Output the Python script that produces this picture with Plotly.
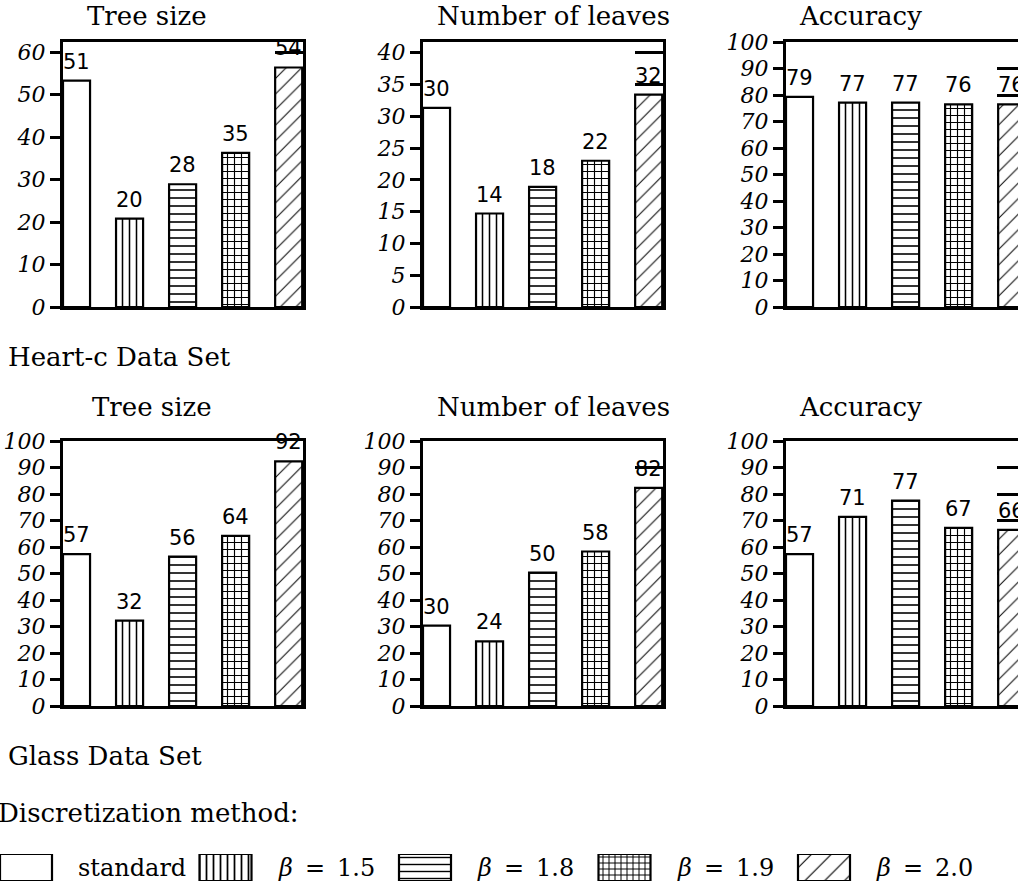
import plotly.graph_objects as go

# ---------------- data ----------------
methods = ["standard", "β = 1.5", "β = 1.8", "β = 1.9", "β = 2.0"]
legend_labels = ["standard", "<i>β</i>\u2002=\u20021.5", "<i>β</i>\u2002=\u20021.8",
                 "<i>β</i>\u2002=\u20021.9", "<i>β</i>\u2002=\u20022.0"]
metrics = ["Tree size", "Number of leaves", "Accuracy"]
datasets = ["Heart-c Data Set", "Glass Data Set"]

heart_tree_size = [53.3, 20.8, 28.9, 36.3, 56.4]
heart_tree_size_labels = ["51", "20", "28", "35", "54"]
heart_leaves = [31.3, 14.7, 18.9, 23.0, 33.4]
heart_leaves_labels = ["30", "14", "18", "22", "32"]
heart_accuracy = [79.3, 77.1, 77.1, 76.5, 76.5]
heart_accuracy_labels = ["79", "77", "77", "76", "76"]

glass_tree_size = [57.3, 32.2, 56.4, 64.2, 92.3]
glass_tree_size_labels = ["57", "32", "56", "64", "92"]
glass_leaves = [30.3, 24.4, 50.3, 58.3, 82.3]
glass_leaves_labels = ["30", "24", "50", "58", "82"]
glass_accuracy = [57.3, 71.4, 77.5, 67.2, 66.5]
glass_accuracy_labels = ["57", "71", "77", "67", "66"]

heart_ymax = [62.4, 41.67, 100]
heart_dtick = [10, 5, 10]
glass_ymax = [100, 100, 100]
glass_dtick = [10, 10, 10]

# ---------------- style / layout ----------------
W, H = 1018, 888
patterns = ["", "|", "-", "+", "/"]
pattern_sizes = [8, 7, 8, 7, 11]
pattern_solidity = [0.2, 0.22, 0.2, 0.3, 0.09]
legend_pattern_sizes = [8, 7, 7, 6, 14]
legend_pattern_solidity = [0.2, 0.25, 0.2, 0.3, 0.08]
SERIF = "DejaVu Serif"
SANS = "DejaVu Sans"

def pxx(p):
    return p / W

def pxy(p):
    return 1 - p / H

col_px = [(63, 303), (423, 663), (786, 1026)]   # third column extends past the page edge
row_px = [(42, 307), (441, 706)]
xr0, xr1 = -0.255, 4.27

panels = [
    (0, 0, heart_tree_size, heart_tree_size_labels, heart_ymax[0], heart_dtick[0]),
    (0, 1, heart_leaves, heart_leaves_labels, heart_ymax[1], heart_dtick[1]),
    (0, 2, heart_accuracy, heart_accuracy_labels, heart_ymax[2], heart_dtick[2]),
    (1, 0, glass_tree_size, glass_tree_size_labels, glass_ymax[0], glass_dtick[0]),
    (1, 1, glass_leaves, glass_leaves_labels, glass_ymax[1], glass_dtick[1]),
    (1, 2, glass_accuracy, glass_accuracy_labels, glass_ymax[2], glass_dtick[2]),
]

fig = go.Figure()
layout = {}
annotations = []

for k, (r, c, vals, labs, ymax, dt) in enumerate(panels, start=1):
    xs = "" if k == 1 else str(k)
    xname, yname = "x" + xs, "y" + xs
    ov = str(k + 6)
    left, right = col_px[c]
    right_vis = min(right, W)
    xend = xr0 + (xr1 - xr0) * (right_vis - left) / (right - left)
    top, bottom = row_px[r]
    ydom = [pxy(bottom), pxy(top)]
    tickvals = list(range(0, int(ymax) + 1, dt))

    # invisible carrier so the right-hand tick axis gets drawn
    fig.add_trace(go.Scatter(
        x=[methods[0]], y=[None], xaxis=xname, yaxis="y" + ov, mode="markers",
        showlegend=False, hoverinfo="skip",
    ))
    fig.add_trace(go.Bar(
        x=methods, y=vals, width=0.51, xaxis=xname, yaxis=yname,
        marker=dict(color="white", line=dict(color="black", width=2.2),
                    pattern=dict(shape=patterns, size=pattern_sizes, solidity=pattern_solidity,
                                 fgcolor="black", bgcolor="white", fillmode="replace")),
        showlegend=False, hoverinfo="skip",
    ))

    layout["xaxis" + xs] = dict(
        domain=[pxx(left), pxx(right_vis)], anchor=yname, range=[xr0, xend],
        type="category", showline=True, linewidth=3, linecolor="black", mirror=True,
        ticks="", showticklabels=False, showgrid=False, zeroline=False, fixedrange=True,
        automargin=False,
    )
    layout["yaxis" + xs] = dict(
        domain=ydom, anchor=xname, range=[0, ymax], tickvals=tickvals,
        showline=True, linewidth=3, linecolor="black", mirror=(c != 2),
        ticks="outside", ticklen=10, tickwidth=3, tickcolor="black",
        tickfont=dict(family=SERIF, size=22, style="italic", color="black"),
        showgrid=False, zeroline=False, fixedrange=True, automargin=False,
    )
    # right-hand ticks pointing inwards, hidden behind the bars
    layout["yaxis" + ov] = dict(
        overlaying=yname, side="right", anchor=xname, range=[0, ymax], tickvals=tickvals,
        ticks="inside", ticklen=(21 if c == 2 else 28), tickwidth=3, tickcolor="black",
        showticklabels=False, showline=False, showgrid=False, zeroline=False,
        layer="below traces", fixedrange=True, automargin=False,
    )

    for m, v, t in zip(methods, vals, labs):
        annotations.append(dict(
            x=m, y=v, xref=xname, yref=yname, text=t, showarrow=False,
            yanchor="bottom", xanchor="center", yshift=5,
            font=dict(family=SANS, size=21, color="black"),
        ))

# panel titles
title_pos = [[(147, 16), (553, 16), (860, 16)], [(152, 407), (553, 407), (860, 407)]]
for r in range(2):
    for c in range(3):
        tx, ty = title_pos[r][c]
        annotations.append(dict(
            x=pxx(tx), y=pxy(ty), xref="paper", yref="paper", text=metrics[c],
            showarrow=False, xanchor="center", yanchor="middle",
            font=dict(family=SERIF, size=26, color="black"),
        ))

# dataset captions
for name, ty in zip(datasets, [357, 756]):
    annotations.append(dict(
        x=pxx(6), y=pxy(ty), xref="paper", yref="paper", text=name, showarrow=False,
        xanchor="left", yanchor="middle", font=dict(family=SERIF, size=26, color="black"),
    ))
annotations.append(dict(
    x=pxx(-4), y=pxy(813), xref="paper", yref="paper", text="Discretization method:",
    showarrow=False, xanchor="left", yanchor="middle",
    font=dict(family=SERIF, size=26, color="black"),
))

# ---------------- legend row (own hidden axes) ----------------
leg_spacing = 199.5
leg_start = -26 / leg_spacing
leg_end = leg_start + W / leg_spacing
fig.add_trace(go.Bar(
    x=methods, y=[1] * len(methods), width=52 / leg_spacing, xaxis="x13", yaxis="y13",
    marker=dict(color="white", line=dict(color="black", width=2.2),
                pattern=dict(shape=patterns, size=legend_pattern_sizes,
                             solidity=legend_pattern_solidity,
                             fgcolor="black", bgcolor="white", fillmode="replace")),
    showlegend=False, hoverinfo="skip",
))
layout["xaxis13"] = dict(domain=[0, 1], anchor="y13", range=[leg_start, leg_end], type="category",
                         visible=False, fixedrange=True, automargin=False)
layout["yaxis13"] = dict(domain=[pxy(881), pxy(854)], anchor="x13", range=[0, 1],
                         visible=False, fixedrange=True, automargin=False)
for m, t in zip(methods, legend_labels):
    annotations.append(dict(
        x=m, y=0.5, xref="x13", yref="y13", text=t, showarrow=False,
        xanchor="left", yanchor="middle", xshift=50,
        font=dict(family=SERIF, size=24, color="black"),
    ))

fig.update_layout(
    width=W, height=H, margin=dict(l=0, r=0, t=0, b=0, pad=0, autoexpand=False),
    paper_bgcolor="white", plot_bgcolor="white",
    barmode="overlay", showlegend=False, annotations=annotations,
    **layout,
)

fig.write_html(
    "out.html",
    config={"displayModeBar": False},
    post_script="document.body.style.margin='0px'; document.body.style.overflow='hidden';",
)
